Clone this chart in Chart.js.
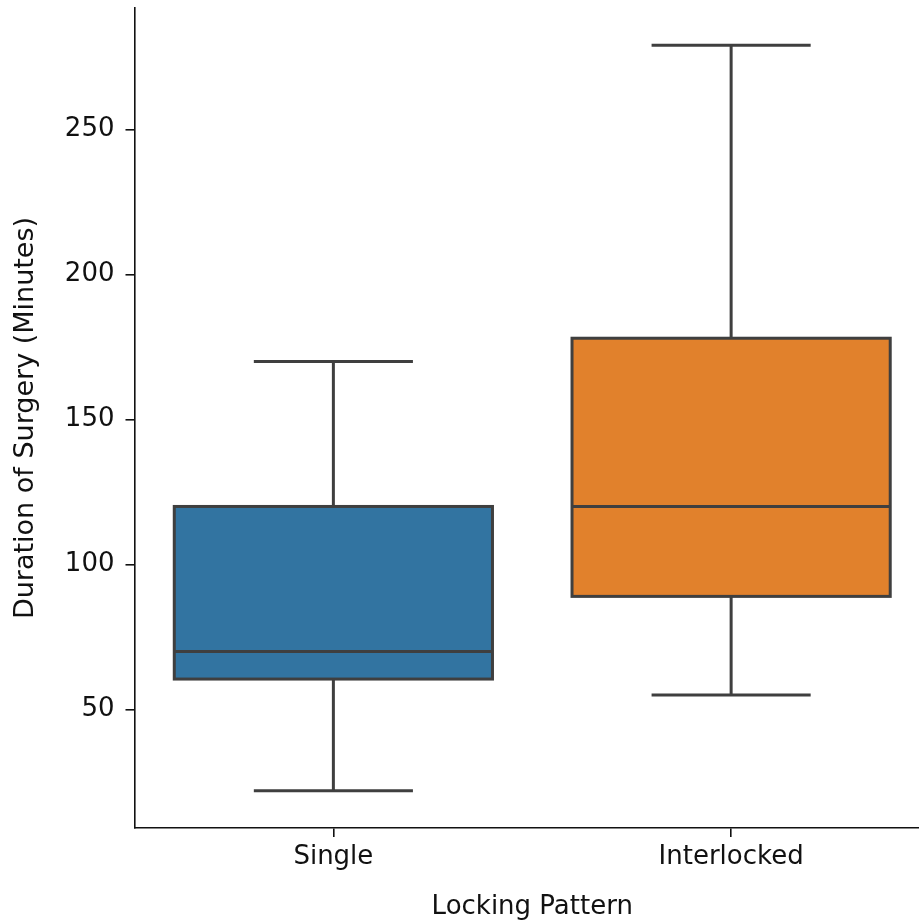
<!DOCTYPE html>
<html>
<head>
<meta charset="utf-8">
<script src="https://cdn.jsdelivr.net/npm/chart.js@4"></script>
<style>
  html, body { margin: 0; padding: 0; overflow: hidden; background: #fff; }
  canvas { display: block; }
</style>
</head>
<body>
<canvas id="myChart" width="930" height="923" style="width:930px;height:923px"></canvas>
<script>
// box plot summary
const categories = ['Single', 'Interlocked'];
const whiskerLow = [22, 55];
const q1 = [60.5, 89];
const median = [70, 120];
const q3 = [120, 178];
const whiskerHigh = [170, 279];
const yTicks = [50, 100, 150, 200, 250];

const boxColors = ['#3274a1', '#e1812c'];
const lineColor = '#3f3f3f';
const textColor = '#111111';
const font = 'DejaVu Sans';

// matplotlib style 5% margin on the data range
const lo = Math.min(...whiskerLow), hi = Math.max(...whiskerHigh);
const yMin = lo - (hi - lo) * 0.05;
const yMax = hi + (hi - lo) * 0.05;

const boxPlot = {
    id: 'boxPlot',
    afterDatasetsDraw(chart) {
        const ctx = chart.ctx;
        const y = chart.scales.y;
        const meta = chart.getDatasetMeta(0);
        ctx.save();
        ctx.strokeStyle = lineColor;
        ctx.lineWidth = 3;
        ctx.lineCap = 'butt';
        meta.data.forEach((bar, i) => {
            const cx = bar.x;
            const half = bar.width / 2;
            const capHalf = bar.width / 4;
            const yLo = y.getPixelForValue(whiskerLow[i]);
            const yHi = y.getPixelForValue(whiskerHigh[i]);
            const y1 = y.getPixelForValue(q1[i]);
            const y3 = y.getPixelForValue(q3[i]);
            const ym = y.getPixelForValue(median[i]);
            ctx.beginPath();
            // whiskers
            ctx.moveTo(cx, y3); ctx.lineTo(cx, yHi);
            ctx.moveTo(cx, y1); ctx.lineTo(cx, yLo);
            // caps
            ctx.moveTo(cx - capHalf, yHi); ctx.lineTo(cx + capHalf, yHi);
            ctx.moveTo(cx - capHalf, yLo); ctx.lineTo(cx + capHalf, yLo);
            ctx.stroke();
            // box outline
            ctx.strokeRect(cx - half, y3, bar.width, y1 - y3);
            // median
            ctx.beginPath();
            ctx.moveTo(cx - half, ym); ctx.lineTo(cx + half, ym);
            ctx.stroke();
        });
        ctx.restore();
    }
};

new Chart(document.getElementById('myChart').getContext('2d'), {
    type: 'bar',
    data: {
        labels: categories,
        datasets: [{
            data: categories.map((c, i) => [q1[i], q3[i]]),
            backgroundColor: boxColors,
            borderWidth: 0,
            barPercentage: 0.8,
            categoryPercentage: 1.0
        }]
    },
    options: {
        responsive: false,
        animation: false,
        devicePixelRatio: 1,
        layout: { padding: { top: 8, left: 0, right: 0, bottom: 0 } },
        plugins: {
            legend: { display: false },
            tooltip: { enabled: false }
        },
        scales: {
            x: {
                grid: { display: true, offset: false, drawOnChartArea: false, drawTicks: true, tickLength: 9, lineWidth: 1.6, color: textColor },
                border: { display: true, color: textColor, width: 1.6 },
                ticks: { color: textColor, font: { family: font, size: 26 }, padding: 5 },
                title: { display: true, text: 'Locking Pattern', color: textColor, font: { family: font, size: 26 }, padding: { top: 0, bottom: 0 } },
                afterFit(scale) {
                    scale.height = 95;
                    scale.paddingLeft = 0;
                    scale.paddingRight = 0;
                }
            },
            y: {
                min: yMin,
                max: yMax,
                afterBuildTicks(scale) { scale.ticks = yTicks.map(v => ({ value: v })); },
                grid: { display: true, drawOnChartArea: false, drawTicks: true, tickLength: 9, lineWidth: 1.6, color: textColor },
                border: { display: true, color: textColor, width: 1.6 },
                ticks: { color: textColor, font: { family: font, size: 26 }, padding: 11 },
                title: { display: true, text: 'Duration of Surgery (Minutes)', color: textColor, font: { family: font, size: 27 }, padding: { top: 10, bottom: 0 } },
                afterFit(scale) {
                    scale.width = 134.5;
                    scale.paddingTop = 0;
                    scale.paddingBottom = 0;
                }
            }
        }
    },
    plugins: [boxPlot]
});
</script>
</body>
</html>
